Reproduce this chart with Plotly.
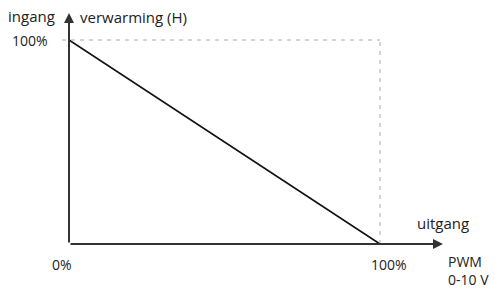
import plotly.graph_objects as go

# data
x_vals = [0, 100]
y_vals = [100, 0]
x_ticks = [0, 100]
x_tick_labels = ["0%", "100%"]
y_ticks = [100]
y_tick_labels = ["100%"]

W, H = 495, 290
x0px, x100px = 69, 380
y0px, y100px = 244, 40
sx = (x100px - x0px) / 100.0
sy = (y0px - y100px) / 100.0
xr = [-x0px / sx, (W - x0px) / sx]
yr = [-(H - y0px) / sy, y0px / sy]

def px2x(p):
    return (p - x0px) / sx

def px2y(p):
    return (y0px - p) / sy

def ppx(p):
    return p / W

def ppy(p):
    return 1 - p / H

FONT = "Open Sans, Lato, sans-serif"
TC = "#222222"
FS = 15

fig = go.Figure()
fig.add_trace(go.Scatter(x=x_vals, y=y_vals, mode="lines",
                         line=dict(color="#111111", width=1.5),
                         hoverinfo="skip", showlegend=False))

# dashed guides
fig.add_shape(type="line", x0=px2x(62), y0=y_vals[0], x1=x_vals[1], y1=y_vals[0],
              line=dict(color="#aaaaaa", width=1, dash="4px,5px"))
fig.add_shape(type="line", x0=x_vals[1], y0=0, x1=x_vals[1], y1=y_vals[0],
              line=dict(color="#aaaaaa", width=1, dash="4px,5px"))

# axes arrows
AX = "#333333"
fig.add_annotation(x=px2x(443), y=0, ax=0, ay=0, xref="x", yref="y", axref="x", ayref="y",
                   text="", showarrow=True, arrowhead=2, arrowsize=1, arrowwidth=2, arrowcolor=AX)
fig.add_annotation(x=0, y=px2y(13), ax=0, ay=0, xref="x", yref="y", axref="x", ayref="y",
                   text="", showarrow=True, arrowhead=2, arrowsize=1, arrowwidth=2, arrowcolor=AX)

def label(text, xp, yp, anchor="left", size=FS, yanchor="middle"):
    fig.add_annotation(x=ppx(xp), y=ppy(yp), xref="paper", yref="paper", text=text,
                       showarrow=False, xanchor=anchor, yanchor=yanchor, borderpad=0,
                       align="left", font=dict(family=FONT, size=size, color=TC))

label("ingang", 7, 16)
label("verwarming (H)", 79, 17)
for t, lab in zip(y_ticks, y_tick_labels):
    fig.add_annotation(x=px2x(50), y=t, xref="x", yref="y", text=lab, showarrow=False,
                       xanchor="right", yanchor="middle",
                       font=dict(family=FONT, size=FS - 1, color=TC))
tick_px = [62, 389]
for t, lab, xp in zip(x_ticks, x_tick_labels, tick_px):
    fig.add_annotation(x=px2x(xp), y=px2y(264), xref="x", yref="y", text=lab, showarrow=False,
                       xanchor="center", yanchor="middle",
                       font=dict(family=FONT, size=FS - 1, color=TC))
label("uitgang", 416, 223)
label("PWM<br>0-10 V", 447, 290, size=14, yanchor="bottom")

fig.update_layout(
    width=W, height=H, margin=dict(l=0, r=0, t=0, b=0),
    paper_bgcolor="white", plot_bgcolor="white",
    xaxis=dict(range=xr, visible=False, fixedrange=True),
    yaxis=dict(range=yr, visible=False, fixedrange=True),
)
fig.write_html("out.html", config={"displayModeBar": False},
               post_script="document.body.style.margin='0';document.body.style.overflow='hidden';")
